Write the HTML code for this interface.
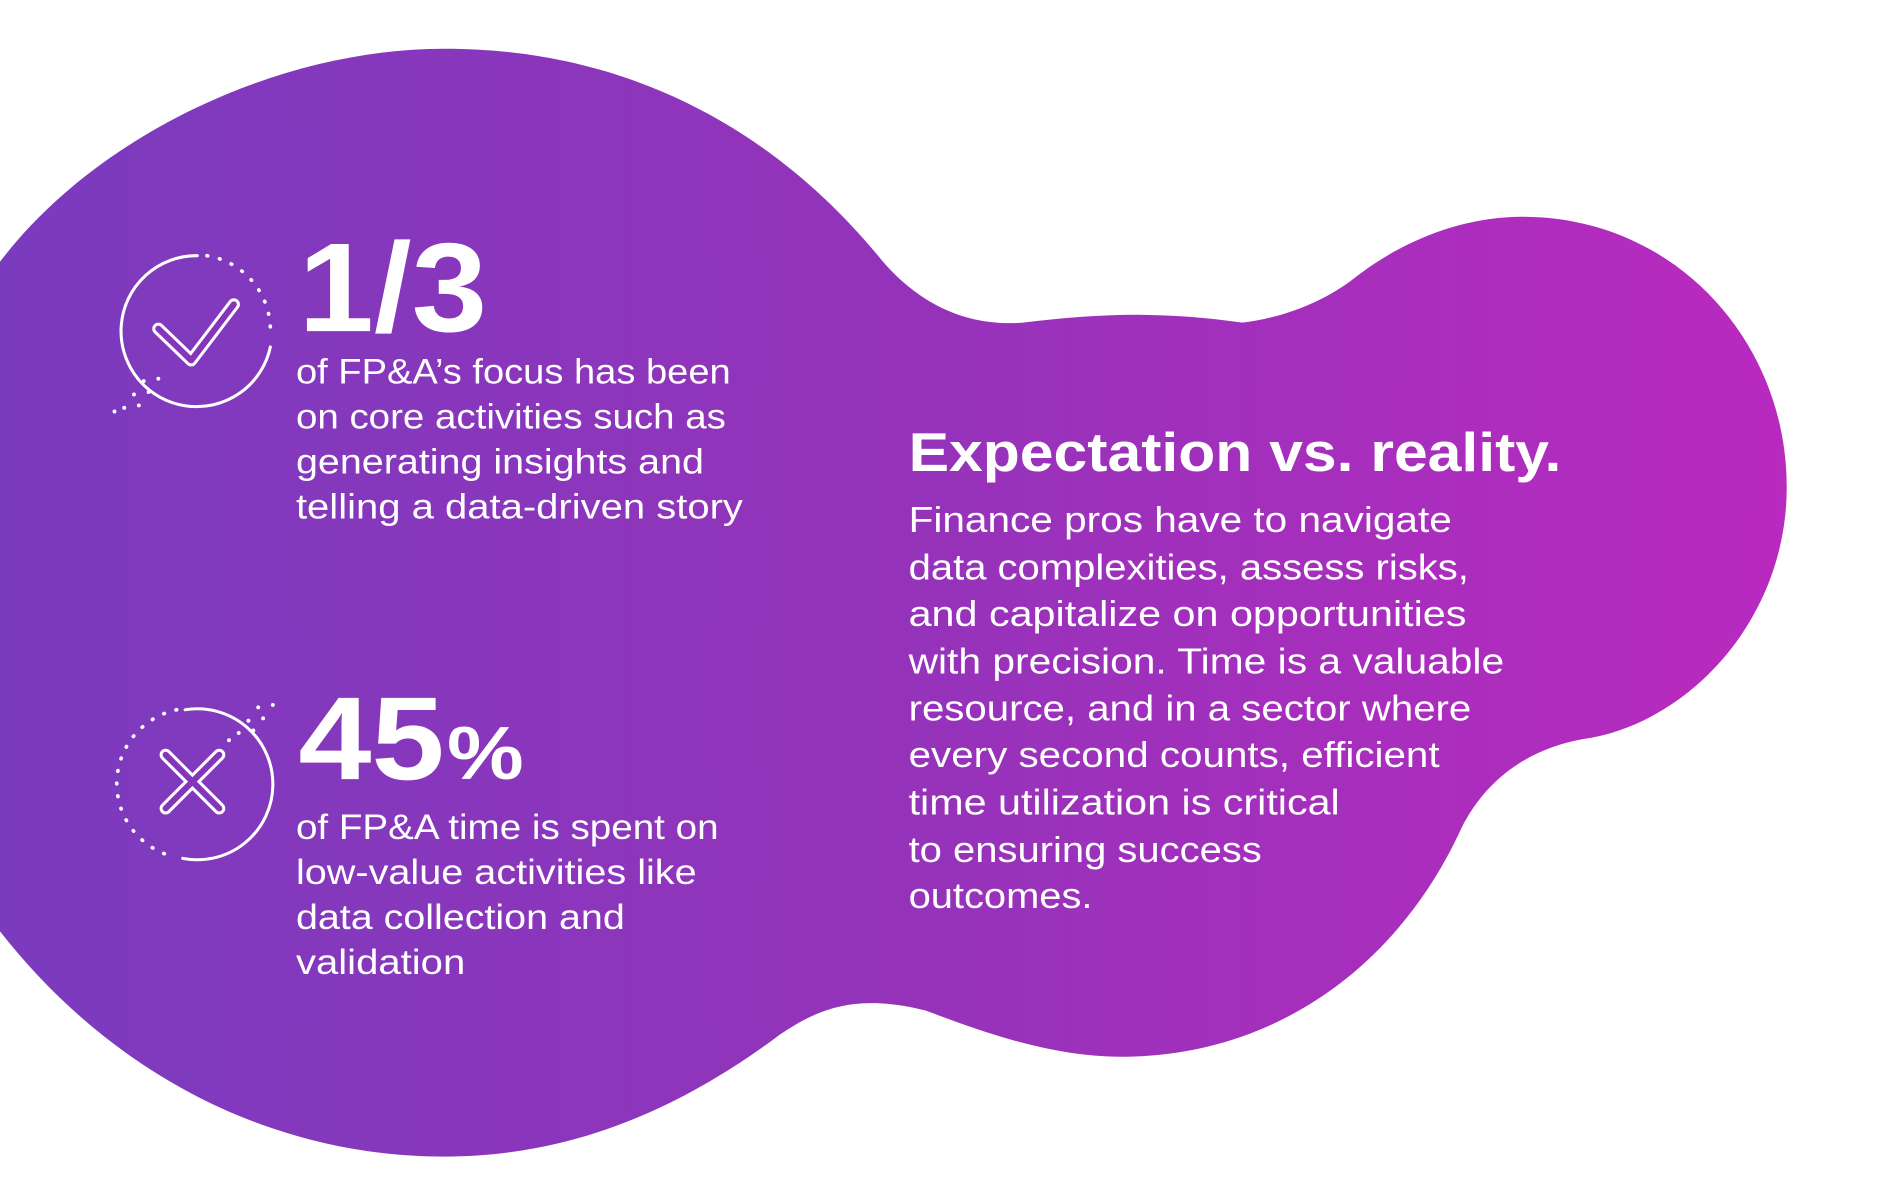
<!DOCTYPE html>
<html><head><meta charset="utf-8"><style>
html,body{margin:0;padding:0;background:#fff;}
svg{display:block;}
text{font-family:"Liberation Sans",sans-serif;fill:#fff;}
</style></head><body>
<svg width="1900" height="1198" viewBox="0 0 1560 984" preserveAspectRatio="none" xmlns="http://www.w3.org/2000/svg">
<defs>
<linearGradient id="g" x1="0" y1="0" x2="1470" y2="0" gradientUnits="userSpaceOnUse">
<stop offset="0" stop-color="#7b3bbe"/>
<stop offset="0.5" stop-color="#9433ba"/>
<stop offset="1" stop-color="#b92abf"/>
</linearGradient>
</defs>
<path fill="url(#g)" d="M 0 215 C 80 110, 230 40, 365 40 C 520 40, 640 110, 725 215 C 760 255, 800 268, 840 265 C 900 258, 950 255, 1020 265 C 1060 260, 1090 245, 1110 230 C 1150 198, 1200 178, 1250 178 C 1375 178, 1467 280, 1467 400 C 1467 510, 1385 595, 1300 607 C 1255 615, 1220 640, 1200 680 C 1150 790, 1050 868, 920 868 C 860 868, 800 845, 760 830 C 700 815, 670 830, 640 850 C 560 910, 470 950, 365 950 C 220 950, 90 880, 0 765 Z"/>

<!-- check icon -->
<g fill="none" stroke="#fff" stroke-linecap="round">
<path d="M 162 210 A 62 62 0 1 0 222 285" stroke-width="2.5"/>
<path d="M 170 210 A 62 62 0 0 1 222 272" stroke-width="3" stroke-dasharray="0.5 10"/>
<path d="M 130 270 L 157 296 L 192 250" stroke-width="10" stroke-linejoin="round"/>
<path d="M 130 270 L 157 296 L 192 250" stroke-width="5" stroke="#8535bb" stroke-linejoin="round"/>
</g>
<g fill="#fff">
<circle cx="130" cy="311" r="1.6"/><circle cx="118" cy="313" r="1.6"/><circle cx="122" cy="322" r="1.6"/><circle cx="110" cy="324" r="1.6"/><circle cx="114" cy="333" r="1.6"/><circle cx="102" cy="335" r="1.6"/><circle cx="94" cy="338" r="1.6"/>
</g>

<!-- x icon -->
<g fill="none" stroke="#fff" stroke-linecap="round">
<path d="M 152 583 A 62 62 0 1 1 150 705" stroke-width="2.5"/>
<path d="M 145 583 A 62 62 0 0 0 140 703" stroke-width="3" stroke-dasharray="0.5 10"/>
<path d="M 136 620 L 180 664 M 180 620 L 136 664" stroke-width="10"/>
<path d="M 136 620 L 180 664 M 180 620 L 136 664" stroke-width="5" stroke="#8535bb"/>
</g>
<g fill="#fff">
<circle cx="224" cy="579" r="1.6"/><circle cx="212" cy="581" r="1.6"/><circle cx="216" cy="590" r="1.6"/><circle cx="204" cy="592" r="1.6"/><circle cx="208" cy="600" r="1.6"/><circle cx="196" cy="602" r="1.6"/><circle cx="188" cy="608" r="1.6"/>
</g>

<text x="245" y="272" font-size="104" font-weight="bold" textLength="155" lengthAdjust="spacingAndGlyphs">1/3</text>
<g font-size="29">
<text x="243" y="315" textLength="357" lengthAdjust="spacingAndGlyphs">of FP&amp;A’s focus has been</text>
<text x="243" y="352" textLength="353" lengthAdjust="spacingAndGlyphs">on core activities such as</text>
<text x="243" y="389" textLength="335" lengthAdjust="spacingAndGlyphs">generating insights and</text>
<text x="243" y="426" textLength="367" lengthAdjust="spacingAndGlyphs">telling a data-driven story</text>
</g>

<text x="245" y="640" font-size="97" font-weight="bold" textLength="120" lengthAdjust="spacingAndGlyphs">45</text>
<text x="367" y="640" font-size="62" font-weight="bold" textLength="63" lengthAdjust="spacingAndGlyphs">%</text>
<g font-size="29">
<text x="243" y="689" textLength="347" lengthAdjust="spacingAndGlyphs">of FP&amp;A time is spent on</text>
<text x="243" y="726" textLength="329" lengthAdjust="spacingAndGlyphs">low-value activities like</text>
<text x="243" y="763" textLength="270" lengthAdjust="spacingAndGlyphs">data collection and</text>
<text x="243" y="800" textLength="139" lengthAdjust="spacingAndGlyphs">validation</text>
</g>

<text x="746" y="387" font-size="45" font-weight="bold" textLength="536" lengthAdjust="spacingAndGlyphs">Expectation vs. reality.</text>
<g font-size="30">
<text x="746" y="437" textLength="446" lengthAdjust="spacingAndGlyphs">Finance pros have to navigate</text>
<text x="746" y="476" textLength="460" lengthAdjust="spacingAndGlyphs">data complexities, assess risks,</text>
<text x="746" y="514" textLength="458" lengthAdjust="spacingAndGlyphs">and capitalize on opportunities</text>
<text x="746" y="553" textLength="489" lengthAdjust="spacingAndGlyphs">with precision. Time is a valuable</text>
<text x="746" y="592" textLength="462" lengthAdjust="spacingAndGlyphs">resource, and in a sector where</text>
<text x="746" y="630" textLength="436" lengthAdjust="spacingAndGlyphs">every second counts, efficient</text>
<text x="746" y="669" textLength="354" lengthAdjust="spacingAndGlyphs">time utilization is critical</text>
<text x="746" y="708" textLength="290" lengthAdjust="spacingAndGlyphs">to ensuring success</text>
<text x="746" y="746" textLength="151" lengthAdjust="spacingAndGlyphs">outcomes.</text>
</g>
</svg>
</body></html>
